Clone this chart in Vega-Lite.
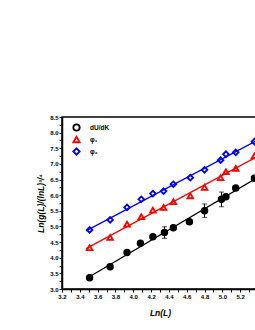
{
  "$schema": "https://vega.github.io/schema/vega-lite/v6.json",
  "autosize": "none",
  "padding": {"left": 62, "top": 117, "right": 0, "bottom": 41},
  "width": 196,
  "height": 172,
  "config": {
    "font": "Liberation Sans",
    "view": {"stroke": "black", "strokeWidth": 1.5},
    "axis": {
      "labelFont": "Liberation Sans", "labelFontWeight": "bold", "labelFontSize": 6, "labelColor": "black",
      "titleFont": "Liberation Sans", "titleFontWeight": "bold", "titleFontStyle": "italic", "titleFontSize": 8.5, "titleColor": "black",
      "domainColor": "black", "domainWidth": 1.5, "tickColor": "black", "tickWidth": 1, "grid": false
    }
  },
  "datasets": {
    "pts": [
      {"x": 3.51, "y": 3.36, "series": "dU/dK"},
      {"x": 3.74, "y": 3.71, "series": "dU/dK"},
      {"x": 3.93, "y": 4.17, "series": "dU/dK"},
      {"x": 4.08, "y": 4.46, "series": "dU/dK"},
      {"x": 4.22, "y": 4.67, "series": "dU/dK"},
      {"x": 4.35, "y": 4.81, "series": "dU/dK", "lo": 4.62, "hi": 4.99},
      {"x": 4.45, "y": 4.96, "series": "dU/dK"},
      {"x": 4.63, "y": 5.15, "series": "dU/dK"},
      {"x": 4.8, "y": 5.5, "series": "dU/dK", "lo": 5.29, "hi": 5.72},
      {"x": 4.99, "y": 5.87, "series": "dU/dK", "lo": 5.63, "hi": 6.1},
      {"x": 5.04, "y": 5.95, "series": "dU/dK"},
      {"x": 5.15, "y": 6.23, "series": "dU/dK"},
      {"x": 5.36, "y": 6.54, "series": "dU/dK"},
      {"x": 3.51, "y": 4.32, "series": "φ₁"},
      {"x": 3.74, "y": 4.65, "series": "φ₁"},
      {"x": 3.93, "y": 5.07, "series": "φ₁"},
      {"x": 4.09, "y": 5.31, "series": "φ₁"},
      {"x": 4.22, "y": 5.52, "series": "φ₁"},
      {"x": 4.34, "y": 5.61, "series": "φ₁"},
      {"x": 4.45, "y": 5.79, "series": "φ₁"},
      {"x": 4.64, "y": 5.98, "series": "φ₁"},
      {"x": 4.8, "y": 6.25, "series": "φ₁"},
      {"x": 4.98, "y": 6.56, "series": "φ₁"},
      {"x": 5.04, "y": 6.75, "series": "φ₁"},
      {"x": 5.15, "y": 6.86, "series": "φ₁"},
      {"x": 5.36, "y": 7.26, "series": "φ₁"},
      {"x": 3.51, "y": 4.89, "series": "φ₂"},
      {"x": 3.74, "y": 5.21, "series": "φ₂"},
      {"x": 3.93, "y": 5.61, "series": "φ₂"},
      {"x": 4.09, "y": 5.87, "series": "φ₂"},
      {"x": 4.22, "y": 6.05, "series": "φ₂"},
      {"x": 4.34, "y": 6.13, "series": "φ₂"},
      {"x": 4.45, "y": 6.35, "series": "φ₂"},
      {"x": 4.64, "y": 6.56, "series": "φ₂"},
      {"x": 4.8, "y": 6.81, "series": "φ₂"},
      {"x": 4.98, "y": 7.12, "series": "φ₂"},
      {"x": 5.04, "y": 7.31, "series": "φ₂"},
      {"x": 5.15, "y": 7.37, "series": "φ₂"},
      {"x": 5.36, "y": 7.71, "series": "φ₂"}
    ]
  },
  "data": {"name": "pts"},
  "encoding": {
    "x": {"field": "x", "type": "quantitative", "scale": {"domain": [3.2, 5.4], "nice": false, "zero": false},
      "axis": {"orient": "bottom", "title": "Ln(L)", "titlePadding": 9, "values": [3.2,3.3,3.4,3.5,3.6,3.7,3.8,3.9,4.0,4.1,4.2,4.3,4.4,4.5,4.6,4.7,4.8,4.9,5.0,5.1,5.2,5.3,5.4],
        "labelExpr": "(round(datum.value*10)%2==0 && datum.value < 5.3) ? format(datum.value,'.1f') : ''", "tickSize": 3, "labelPadding": 1, "labelFlush": false, "labelOverlap": false}},
    "y": {"field": "y", "type": "quantitative", "scale": {"domain": [3.0, 8.5], "nice": false, "zero": false},
      "axis": {"title": "Ln(g(L)/(lnL)³/⁴", "titlePadding": 4, "values": [3.0,3.25,3.5,3.75,4.0,4.25,4.5,4.75,5.0,5.25,5.5,5.75,6.0,6.25,6.5,6.75,7.0,7.25,7.5,7.75,8.0,8.25,8.5],
        "labelExpr": "round(datum.value*100)%50==0 ? format(datum.value,'.1f') : ''", "tickSize": 3, "labelPadding": 1, "labelFlush": false, "labelOverlap": false}}
  },
  "layer": [
    {
      "mark": {"type": "point", "strokeWidth": 1.8, "opacity": 1, "filled": false},
      "encoding": {
        "color": {"field": "series", "type": "nominal", "scale": {"domain": ["dU/dK", "φ₁", "φ₂"], "range": ["black", "#ff0000", "#0000ff"]},
          "legend": {"orient": "none", "legendX": 10, "legendY": 6, "title": null, "rowPadding": 3, "clipHeight": 9, "symbolSize": 40, "symbolStrokeWidth": 1.8, "labelOffset": 9,
            "labelFont": "Liberation Sans", "labelFontWeight": "bold", "labelFontSize": 6.5, "labelColor": "black",
            "encode": {"symbols": {"update": {"fill": {"signal": "datum.value === 'dU/dK' ? 'black' : 'transparent'"}}}}}},
        "shape": {"field": "series", "type": "nominal", "scale": {"domain": ["dU/dK", "φ₁", "φ₂"], "range": ["circle", "triangle-up", "diamond"]},
          "legend": {"orient": "none", "legendX": 10, "legendY": 6, "title": null, "rowPadding": 3, "clipHeight": 9, "symbolSize": 40, "symbolStrokeWidth": 1.8, "labelOffset": 9,
            "labelFont": "Liberation Sans", "labelFontWeight": "bold", "labelFontSize": 6.5, "labelColor": "black",
            "encode": {"symbols": {"update": {"fill": {"signal": "datum.value === 'dU/dK' ? 'black' : 'transparent'"}}}}}},
        "size": {"value": 32}
      }
    },
    {
      "transform": [{"regression": "y", "on": "x", "groupby": ["series"], "extent": [3.47, 5.45]}],
      "mark": {"type": "line", "clip": true, "strokeWidth": 1.3},
      "encoding": {
        "color": {"field": "series", "type": "nominal"}
      }
    },
    {
      "transform": [{"filter": "isValid(datum.lo)"}],
      "mark": {"type": "rule", "color": "black", "strokeWidth": 1},
      "encoding": {
        "y": {"field": "lo", "type": "quantitative"},
        "y2": {"field": "hi"}
      }
    },
    {
      "transform": [{"filter": "isValid(datum.lo)"}],
      "mark": {"type": "tick", "color": "black", "orient": "horizontal", "size": 5, "thickness": 1},
      "encoding": {
        "y": {"field": "lo", "type": "quantitative"}
      }
    },
    {
      "transform": [{"filter": "isValid(datum.lo)"}],
      "mark": {"type": "tick", "color": "black", "orient": "horizontal", "size": 5, "thickness": 1},
      "encoding": {
        "y": {"field": "hi", "type": "quantitative"}
      }
    },
    {
      "transform": [{"filter": "datum.series == 'dU/dK'"}],
      "mark": {"type": "circle", "color": "black", "opacity": 1},
      "encoding": {
        "size": {"value": 34}
      }
    }
  ]
}
